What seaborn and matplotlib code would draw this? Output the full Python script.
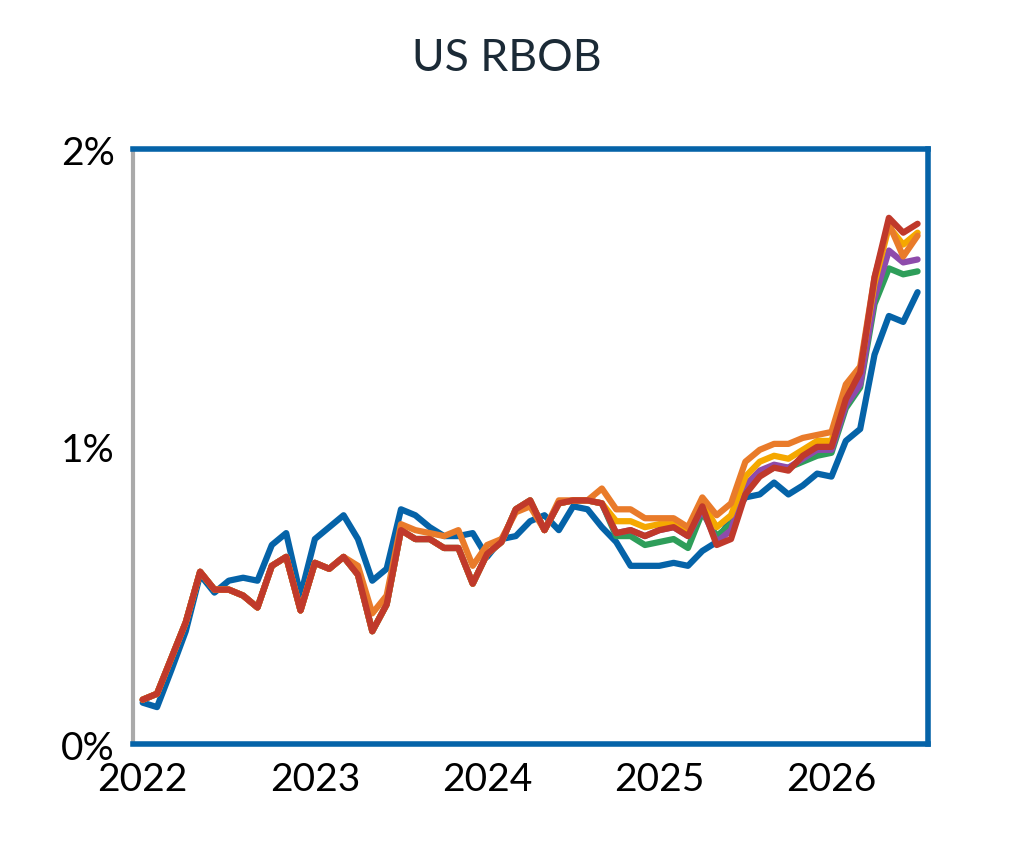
import numpy as np
import pandas as pd
import matplotlib.pyplot as plt
import seaborn as sns

# Monthly values, Jan 2022 .. Jul 2026 (in %)
blue = [0.14, 0.125, 0.25, 0.38, 0.57, 0.51, 0.55, 0.56, 0.55, 0.67, 0.71, 0.50, 0.69, 0.73, 0.77, 0.69,
        0.55, 0.59, 0.79, 0.77, 0.73, 0.70, 0.70, 0.71, 0.63, 0.69, 0.70, 0.75, 0.77, 0.72, 0.80, 0.79,
        0.73, 0.68, 0.60, 0.60, 0.60, 0.61, 0.60, 0.65, 0.68, 0.76, 0.83, 0.84, 0.88, 0.84, 0.87, 0.91,
        0.90, 1.02, 1.06, 1.31, 1.44, 1.42, 1.52]
red = [0.15, 0.17, 0.29, 0.41, 0.58, 0.52, 0.52, 0.50, 0.46, 0.60, 0.63, 0.45, 0.61, 0.59, 0.63, 0.57,
       0.38, 0.47, 0.72, 0.69, 0.69, 0.66, 0.66, 0.54, 0.64, 0.68, 0.79, 0.82, 0.72, 0.81, 0.82, 0.82,
       0.81, 0.71, 0.72, 0.70, 0.72, 0.73, 0.70, 0.80, 0.67, 0.69, 0.84, 0.90, 0.93, 0.92, 0.97, 1.00,
       1.00, 1.16, 1.25, 1.57, 1.77, 1.72, 1.75]
base = red[:33]
green = base + [0.70, 0.70, 0.67, 0.68, 0.69, 0.66, 0.78, 0.70, 0.74, 0.86, 0.91, 0.93, 0.93, 0.95, 0.97,
                0.98, 1.13, 1.20, 1.48, 1.60, 1.58, 1.59]
purple = base + [0.71, 0.72, 0.70, 0.72, 0.73, 0.70, 0.79, 0.68, 0.72, 0.87, 0.92, 0.94, 0.93, 0.96, 0.99,
                 0.99, 1.14, 1.21, 1.50, 1.66, 1.62, 1.63]
yellow = base + [0.75, 0.75, 0.73, 0.74, 0.74, 0.71, 0.81, 0.73, 0.77, 0.90, 0.95, 0.97, 0.96, 0.99, 1.02,
                 1.02, 1.18, 1.26, 1.55, 1.74, 1.68, 1.72]
orange = red[:15] + [0.60, 0.44, 0.50, 0.74, 0.72, 0.71, 0.70, 0.72, 0.60, 0.67, 0.69, 0.78, 0.80, 0.72,
                     0.82, 0.82, 0.82, 0.86, 0.79, 0.79, 0.76, 0.76, 0.76, 0.73, 0.83, 0.77, 0.81, 0.95,
                     0.99, 1.01, 1.01, 1.03, 1.04, 1.05, 1.21, 1.27, 1.57, 1.75, 1.64, 1.71]
orange = orange[:len(red)]

series = {'blue': blue, 'green': green, 'purple': purple, 'yellow': yellow, 'orange': orange, 'red': red}
colors = {'blue': '#0563a8', 'green': '#2e9e5a', 'purple': '#8e4bab',
          'yellow': '#f5a800', 'orange': '#e97b2a', 'red': '#c0392b'}

x = 2022 + np.arange(len(red)) / 12
df = pd.concat([pd.DataFrame({'x': x, 'y': v, 's': k}) for k, v in series.items()])

sns.set_style('white')
plt.rcParams['font.family'] = ['Lato', 'DejaVu Sans']

fig = plt.figure(figsize=(10.13, 8.45), dpi=100)
ax = fig.add_axes([0.131, 0.118, 0.785, 0.704])
sns.lineplot(data=df, x='x', y='y', hue='s', palette=colors, linewidth=4.5, legend=False, ax=ax)

ax.set_xlim(2022 - 0.058, 2026.56)
ax.set_ylim(0, 2)
ax.set_xticks([2022, 2023, 2024, 2025, 2026])
ax.set_yticks([0, 1, 2])
ax.set_yticklabels(['0%', '1%', '2%'])
ax.set_xlabel('')
ax.set_ylabel('')
ax.tick_params(axis='x', length=0, labelsize=28, pad=12, colors='black')
ax.tick_params(axis='y', length=9, width=2, color='#aaaaaa', labelsize=28, pad=4, labelcolor='black')
for side in ['top', 'right', 'bottom']:
    ax.spines[side].set_color('#0563a8')
    ax.spines[side].set_linewidth(4)
ax.spines['left'].set_color('#aaaaaa')
ax.spines['left'].set_linewidth(3)

fig.suptitle('US RBOB', y=0.955, fontsize=32, color='#1b2a36')
fig.savefig('out.png', dpi=100)
